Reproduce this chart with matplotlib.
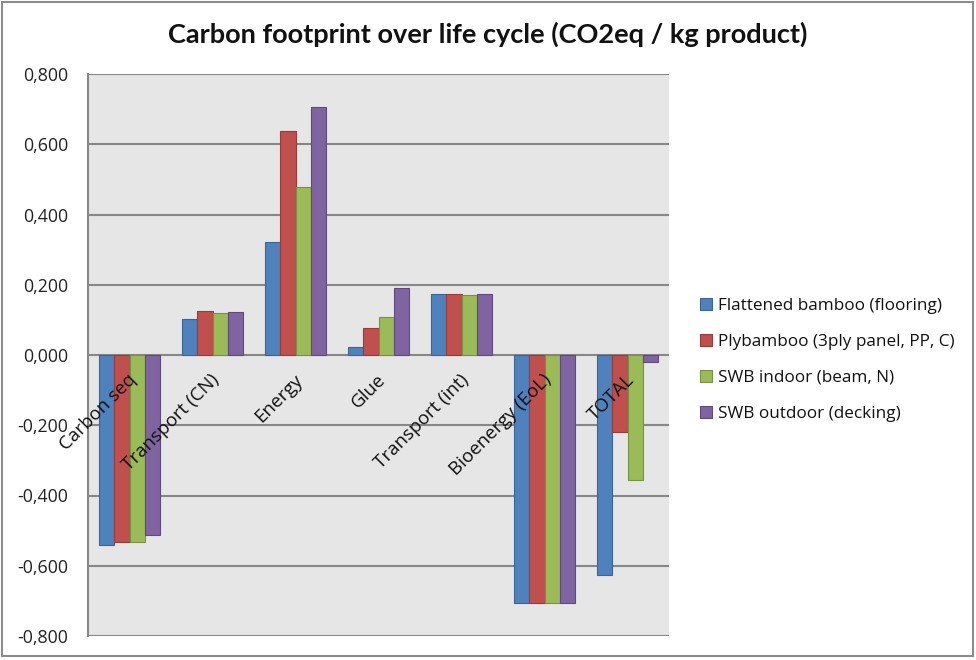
import matplotlib
matplotlib.use("Agg")
import matplotlib.pyplot as plt
import numpy as np
from matplotlib.patches import Rectangle
from matplotlib.ticker import FuncFormatter

categories = ["Carbon seq", "Transport (CN)", "Energy", "Glue", "Transport (int)",
              "Bioenergy (EoL)", "TOTAL"]
series_names = ["Flattened bamboo (flooring)", "Plybamboo (3ply panel, PP, C)",
                "SWB indoor (beam, N)", "SWB outdoor (decking)"]
flattened = [-0.541, 0.103, 0.322, 0.022, 0.173, -0.705, -0.627]
plybamboo = [-0.532, 0.126, 0.639, 0.076, 0.173, -0.705, -0.218]
swb_indoor = [-0.532, 0.119, 0.477, 0.109, 0.170, -0.705, -0.356]
swb_outdoor = [-0.513, 0.122, 0.705, 0.190, 0.175, -0.705, -0.021]
values = [flattened, plybamboo, swb_indoor, swb_outdoor]
yticks = [-0.8, -0.6, -0.4, -0.2, 0.0, 0.2, 0.4, 0.6, 0.8]

colors = ["#4F81BD", "#C0504D", "#9BBB59", "#8064A2"]
edges = ["#3A6595", "#963C3A", "#779246", "#5F4A7A"]

font = ["Open Sans", "DejaVu Sans"]
plt.rcParams["font.family"] = font

fig = plt.figure(figsize=(9.76, 6.6), dpi=100)
ax = fig.add_axes([88 / 976, 1 - 636 / 660, (669 - 88) / 976, (636 - 74) / 660])
ax.set_facecolor("#E6E6E6")

n = len(series_names)
x = np.arange(len(categories))
group = 4 / 5.5
w = group / n
for k in range(n):
    ax.bar(x - group / 2 + w * (k + 0.5), values[k], width=w, color=colors[k],
           edgecolor=edges[k], linewidth=0.8, label=series_names[k], zorder=3)

ax.set_xlim(-0.5, len(categories) - 0.5)
ax.set_ylim(-0.8, 0.8)
ax.set_yticks(yticks)
ax.yaxis.set_major_formatter(FuncFormatter(lambda v, p: f"{v:.3f}".replace(".", ",")))
ax.tick_params(axis="y", length=0, labelsize=12.8, pad=14, colors="#222222")
ax.set_xticks([])
ax.grid(axis="y", color="#878787", linewidth=1.5, zorder=1)
for s in ["top", "right", "bottom"]:
    ax.spines[s].set_visible(False)
ax.spines["left"].set_color("#878787")
ax.spines["left"].set_linewidth(1.5)

for i, c in enumerate(categories):
    ax.annotate(c, xy=(i, 0), xytext=(3, -16), textcoords="offset points",
                rotation=45, ha="right", va="center", rotation_mode="anchor",
                fontsize=13.5, color="#111111", zorder=5)

fig.text(0.5, 1 - 34 / 660, "Carbon footprint over life cycle (CO2eq / kg product)",
         ha="center", va="center", fontsize=19.5, fontweight="bold",
         family=["Lato", "DejaVu Sans"], color="#111111")

leg = fig.legend(loc="upper left", bbox_to_anchor=(700 / 976, 1 - 298 / 660),
                 frameon=False, fontsize=12.3, handlelength=0.7, handleheight=0.7,
                 handletextpad=0.35, labelspacing=1.17, borderpad=0, borderaxespad=0)
for t in leg.get_texts():
    t.set_color("#111111")

fig.patches.append(Rectangle((2 / 976, 4 / 660), 971 / 976, 654 / 660,
                             transform=fig.transFigure, fill=False,
                             edgecolor="#8C8C8C", linewidth=1.5))

fig.savefig("out.png", dpi=100)
